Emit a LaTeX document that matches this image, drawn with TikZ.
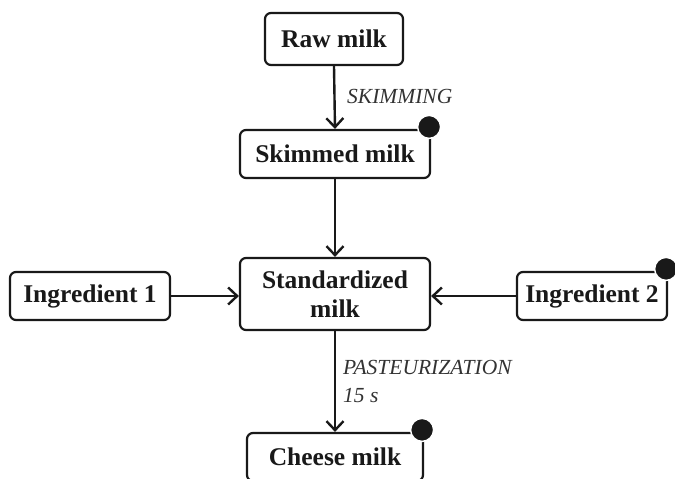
\documentclass[tikz,border=0pt]{standalone}
\usepackage{fontspec}
\setmainfont{Liberation Serif}
\usetikzlibrary{arrows.meta}
\tikzset{
  box/.style={draw=black!90, line width=2.2pt, rounded corners=6pt, inner sep=0pt,
    font=\bfseries\fontsize{25.5}{29}\selectfont, text=black!90, align=center},
  flow/.style={draw=black!90, line width=2.4pt, -{Straight Barb[length=9pt,width=17pt,line width=2.4pt]}},
  lbl/.style={font=\itshape\fontsize{21.5}{28}\selectfont, text=black!80, align=left, inner sep=0pt},
  dot/.style={circle, fill=black!90, draw=white, line width=1.5pt, minimum size=23pt, inner sep=0pt}
}
\begin{document}
\begin{tikzpicture}[x=1pt,y=-1pt]
\useasboundingbox[fill=white] (0,0) rectangle (675,479);
\node[box, minimum width=138pt, minimum height=52pt] (raw) at (334,39) {Raw milk};
\node[box, minimum width=190pt, minimum height=48pt] (skim) at (335,154) {Skimmed milk};
\node[box, minimum width=190pt, minimum height=72pt] (std) at (335,294) {Standardized\\milk};
\node[box, minimum width=160pt, minimum height=48pt] (ing1) at (90,296) {Ingredient 1};
\node[box, minimum width=150pt, minimum height=48pt] (ing2) at (592,296) {Ingredient 2};
\node[box, minimum width=176pt, minimum height=48pt] (cheese) at (335,457) {Cheese milk};
\draw[flow] (raw.south) -- (skim.north);
\draw[flow] (skim.south) -- (std.north);
\draw[flow] (ing1.east) -- (ing1.east -| std.west);
\draw[flow] (ing2.west) -- (ing2.west -| std.east);
\draw[flow] (std.south) -- (cheese.north);
\node[lbl, anchor=west] (skl) at (347,96) {SKIMMING};
\node[lbl, anchor=north west] (pas) at (343,360) {PASTEURIZATION\\15 s};
\node[dot] (d1) at ([shift={(-2pt,2pt)}]skim.north east) {};
\node[dot] (d2) at ([shift={(-2pt,2pt)}]ing2.north east) {};
\node[dot] (d3) at ([shift={(-2pt,2pt)}]cheese.north east) {};
\end{tikzpicture}
\end{document}
